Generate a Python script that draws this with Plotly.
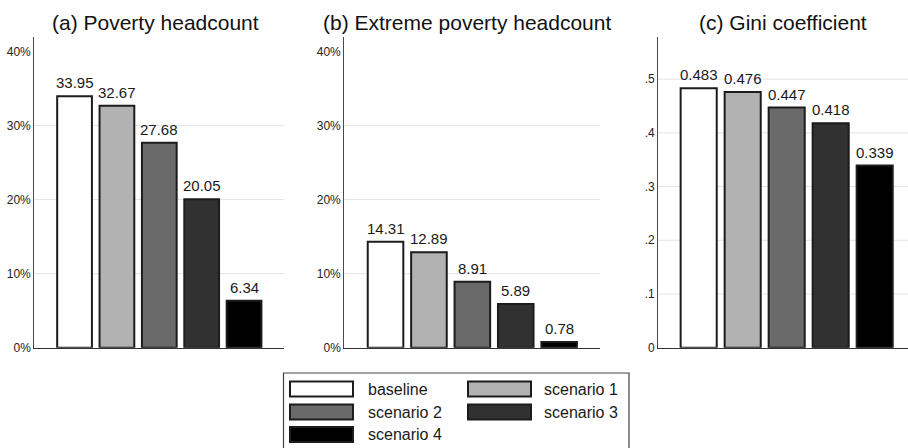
import plotly.graph_objects as go

# Simulated outcomes under each policy scenario
scenarios = ["baseline", "scenario 1", "scenario 2", "scenario 3", "scenario 4"]
poverty_headcount = [33.95, 32.67, 27.68, 20.05, 6.34]
extreme_poverty_headcount = [14.31, 12.89, 8.91, 5.89, 0.78]
gini_coefficient = [0.483, 0.476, 0.447, 0.418, 0.339]

panel_titles = ["(a) Poverty headcount", "(b) Extreme poverty headcount", "(c) Gini coefficient"]

pct_tickvals = [0, 10, 20, 30, 40]
pct_ticktext = ["0%", "10%", "20%", "30%", "40%"]
pct_gridvals = [10, 20, 30]
gini_tickvals = [0, 0.1, 0.2, 0.3, 0.4, 0.5]
gini_ticktext = ["0", ".1", ".2", ".3", ".4", ".5"]
gini_gridvals = [0.1, 0.2, 0.3, 0.4, 0.5]

fills = ["#ffffff", "#b2b2b2", "#6a6a6a", "#313131", "#000000"]
outline = "#1c1c1c"
FONT = "Liberation Sans, Arial, sans-serif"

W, H = 908, 448


def px(x):
    return x / W


def py(y):
    return 1 - y / H


fig = go.Figure()

panels = [
    dict(values=poverty_headcount, fmt="{:.2f}", dom=(34.3, 284.3), xr=(-0.95, 4.95),
         yr=(0, 42.0), tv=pct_tickvals, tt=pct_ticktext, grid=pct_gridvals, tx=155),
    dict(values=extreme_poverty_headcount, fmt="{:.2f}", dom=(344.3, 600.4), xr=(-0.95, 4.95),
         yr=(0, 42.0), tv=pct_tickvals, tt=pct_ticktext, grid=pct_gridvals, tx=467),
    dict(values=gini_coefficient, fmt="{:.3f}", dom=(658.3, 908), xr=(-0.918, 4.757),
         yr=(0, 0.579), tv=gini_tickvals, tt=gini_ticktext, grid=gini_gridvals, tx=782.5),
]

y_top, y_bottom = 36.7, 347.7

for i, p in enumerate(panels):
    n = "" if i == 0 else str(i + 1)
    fig.add_trace(go.Bar(
        x=scenarios, y=p["values"], xaxis="x" + n, yaxis="y" + n,
        marker=dict(color=fills, line=dict(color=outline, width=2)),
        width=0.82, showlegend=False, hoverinfo="skip",
    ))
    # value labels above each bar
    for s, v in zip(scenarios, p["values"]):
        fig.add_annotation(x=s, y=v, xref="x" + n, yref="y" + n, text=p["fmt"].format(v),
                           showarrow=False, xanchor="center", yanchor="bottom", yshift=3,
                           font=dict(family=FONT, size=15, color="#1a1a1a"))
    fig.update_layout(**{
        "xaxis" + n: dict(domain=[px(p["dom"][0]), px(p["dom"][1])], range=list(p["xr"]),
                          anchor="y" + n, showticklabels=False, ticks="", showgrid=False,
                          zeroline=False, showline=True, linecolor="#333333", linewidth=1.2,
                          fixedrange=True, automargin=False),
        "yaxis" + n: dict(domain=[py(y_bottom), py(y_top)], range=list(p["yr"]), anchor="x" + n,
                          tickmode="array", tickvals=p["tv"], ticktext=p["tt"], ticks="",
                          showgrid=False, zeroline=False, showline=True, linecolor="#4a4a4a",
                          linewidth=1.2, tickfont=dict(family=FONT, size=12, color="#222222"),
                          fixedrange=True, automargin=False),
    })
    for g in p["grid"]:
        fig.add_shape(type="line", xref="x" + n + " domain", yref="y" + n, x0=0, x1=1, y0=g, y1=g,
                      line=dict(color="#e4e4e4", width=1), layer="below")
    fig.add_annotation(x=px(p["tx"]), y=py(22.5), xref="paper", yref="paper", text=panel_titles[i],
                       showarrow=False, xanchor="center", yanchor="middle",
                       font=dict(family=FONT, size=21, color="#111111"))

# Legend box with two columns of wide swatches
fig.add_shape(type="rect", xref="paper", yref="paper", x0=px(283.5), x1=px(629), y0=py(470), y1=py(373),
              line=dict(color="#444444", width=1.2), fillcolor="rgba(0,0,0,0)")
col_swatch_x = [290, 468]
col_text_x = [366, 542]
row_y = [389, 412, 434.5]
for k, name in enumerate(scenarios):
    r, c = divmod(k, 2)
    x0 = col_swatch_x[c]
    yc = row_y[r]
    fig.add_shape(type="rect", xref="paper", yref="paper", x0=px(x0), x1=px(x0 + 63),
                  y0=py(yc + 7.5), y1=py(yc - 7.5), fillcolor=fills[k],
                  line=dict(color=outline, width=2))
    fig.add_annotation(x=px(col_text_x[c]), y=py(yc), xref="paper", yref="paper", text=name,
                       showarrow=False, xanchor="left", yanchor="middle",
                       font=dict(family=FONT, size=16, color="#1a1a1a"))

fig.update_layout(width=W, height=H, margin=dict(l=0, r=0, t=0, b=0),
                  paper_bgcolor="white", plot_bgcolor="white")

fig.write_html("out.html")
